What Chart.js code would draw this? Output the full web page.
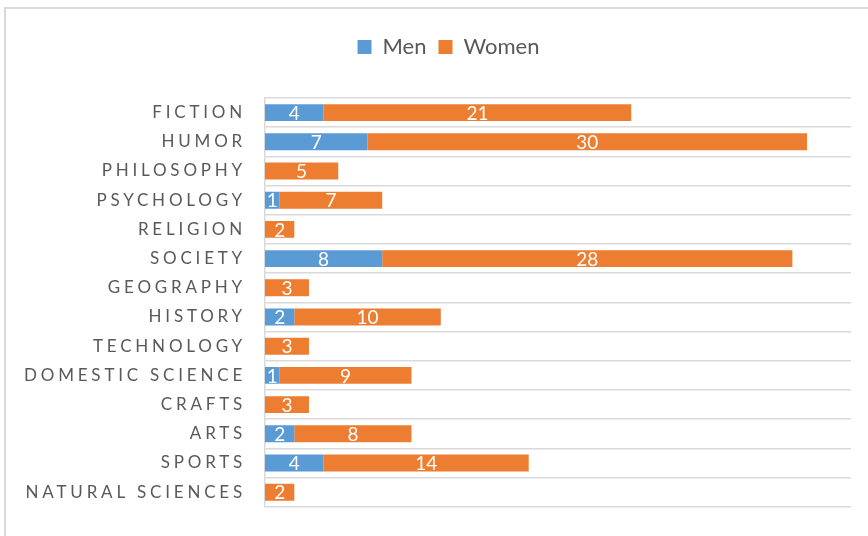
<!DOCTYPE html>
<html>
<head>
<meta charset="utf-8">
<script src="https://cdn.jsdelivr.net/npm/chart.js@4"></script>
<style>
  body { margin: 0; background: #fff; overflow: hidden; }
  #frame { position: absolute; left: 4px; top: 7px; width: 900px; height: 560px; border: 2px solid #d9d9d9; }
  #wrap { position: absolute; left: 0; top: 0; width: 868px; height: 536px; }
</style>
</head>
<body>
<div id="frame"></div>
<div id="wrap"><canvas id="myChart"></canvas></div>
<script>
var categories = ["FICTION", "HUMOR", "PHILOSOPHY", "PSYCHOLOGY", "RELIGION", "SOCIETY", "GEOGRAPHY",
    "HISTORY", "TECHNOLOGY", "DOMESTIC SCIENCE", "CRAFTS", "ARTS", "SPORTS", "NATURAL SCIENCES"];
var men = [4, 7, 0, 1, 0, 8, 0, 2, 0, 1, 0, 2, 4, 0];
var women = [21, 30, 5, 7, 2, 28, 3, 10, 3, 9, 3, 8, 14, 2];

var padLeft = 46;

// category axis with spaced out letters, like the original
class SpacedCategoryScale extends Chart.CategoryScale {
    _computeLabelArea() {
        return undefined; // labels may run into the left padding
    }
    drawLabels(area) {
        this.ctx.save();
        this.ctx.letterSpacing = "3.8px";
        super.drawLabels(area);
        this.ctx.restore();
    }
}
SpacedCategoryScale.id = "spacedCategory";
SpacedCategoryScale.defaults = Chart.CategoryScale.defaults;
Chart.register(SpacedCategoryScale);

// white value labels in the middle of each bar piece
var barLabels = {
    id: "barLabels",
    afterDatasetsDraw: function (chart) {
        var ctx = chart.ctx;
        ctx.save();
        ctx.font = "19px Lato";
        ctx.fillStyle = "#ffffff";
        ctx.textAlign = "center";
        ctx.textBaseline = "middle";
        chart.data.datasets.forEach(function (ds, i) {
            chart.getDatasetMeta(i).data.forEach(function (bar, j) {
                var v = ds.data[j];
                if (!v) return;
                ctx.fillText(String(v), (bar.x + bar.base) / 2, bar.y + 1);
            });
        });
        ctx.restore();
    }
};

// extra room under the legend
var legendGap = {
    id: "legendGap",
    beforeInit: function (chart) {
        var fit = chart.legend.fit;
        chart.legend.fit = function () {
            fit.bind(chart.legend)();
            this.height += 30;
        };
    }
};

var myChart = document.getElementById("myChart").getContext("2d");
var booksChart = new Chart(myChart, {
    type: "bar",
    data: {
        labels: categories,
        datasets: [{
            label: "Men",
            data: men,
            backgroundColor: "#5b9bd5",
            barPercentage: 0.58,
            categoryPercentage: 1
        }, {
            label: "Women",
            data: women,
            backgroundColor: "#ed7d31",
            barPercentage: 0.58,
            categoryPercentage: 1
        }]
    },
    options: {
        indexAxis: "y",
        responsive: true,
        maintainAspectRatio: false,
        animation: false,
        layout: { padding: { top: 24, right: 17, bottom: 22, left: padLeft } },
        plugins: {
            legend: {
                display: true,
                position: "top",
                labels: {
                    boxWidth: 14,
                    boxHeight: 14,
                    padding: 12,
                    color: "#595959",
                    font: { family: "Lato", size: 22 }
                }
            },
            tooltip: { enabled: false }
        },
        scales: {
            x: {
                display: false,
                stacked: true,
                min: 0,
                max: 40
            },
            y: {
                type: "spacedCategory",
                stacked: true,
                ticks: {
                    color: "#595959",
                    padding: 19,
                    font: { family: "Lato", size: 17 }
                },
                grid: { color: "#d9d9d9", lineWidth: 1.5, drawTicks: false, offset: true },
                border: { display: true, color: "#d9d9d9", width: 1.5 },
                afterFit: function (s) { s.width = 265 - padLeft; }
            }
        }
    },
    plugins: [barLabels, legendGap]
});
</script>
</body>
</html>
